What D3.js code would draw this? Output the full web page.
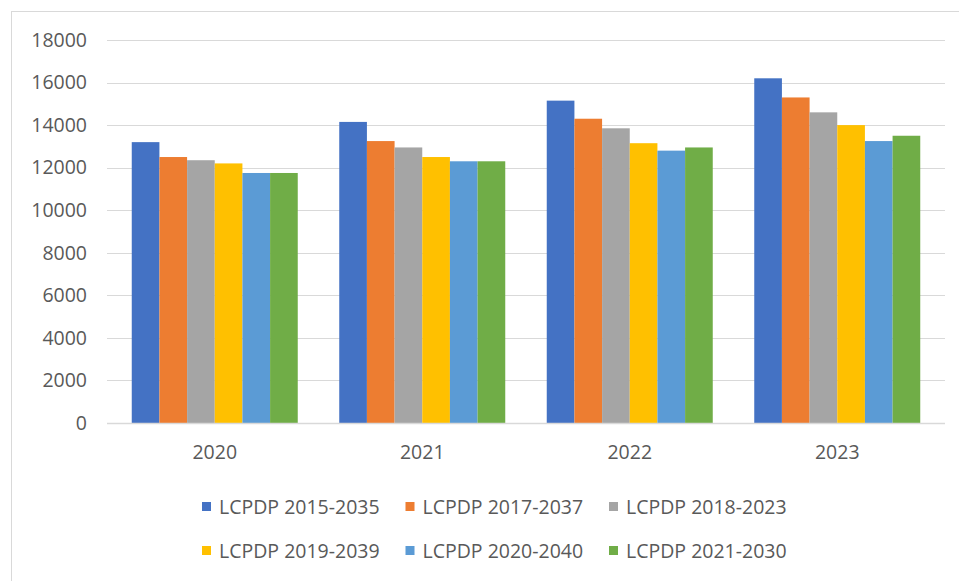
<!DOCTYPE html>
<html>
<head>
<meta charset="utf-8">
<script src="https://cdn.jsdelivr.net/npm/d3@7/dist/d3.min.js"></script>
<style>
  html, body { margin: 0; padding: 0; background: #fff; }
  svg { display: block; }
  text { font-family: "Open Sans", "Noto Sans", sans-serif; fill: #595959; }
</style>
</head>
<body>
<svg id="chart" width="959" height="581"></svg>
<script>
// Years on the category axis
const years = ["2020", "2021", "2022", "2023"];

// Plan editions (one bar per edition in each year)
const seriesNames = [
  "LCPDP 2015-2035",
  "LCPDP 2017-2037",
  "LCPDP 2018-2023",
  "LCPDP 2019-2039",
  "LCPDP 2020-2040",
  "LCPDP 2021-2030"
];

// Forecast values for each edition, by year
const lcpdp2015 = [13200, 14150, 15150, 16200];
const lcpdp2017 = [12500, 13250, 14300, 15300];
const lcpdp2018 = [12350, 12950, 13850, 14600];
const lcpdp2019 = [12200, 12500, 13150, 14000];
const lcpdp2020 = [11750, 12300, 12800, 13250];
const lcpdp2021 = [11750, 12300, 12950, 13500];

// Value axis tick labels
const yTicks = [0, 2000, 4000, 6000, 8000, 10000, 12000, 14000, 16000, 18000];

const seriesValues = [lcpdp2015, lcpdp2017, lcpdp2018, lcpdp2019, lcpdp2020, lcpdp2021];
const colors = ["#4472C4", "#ED7D31", "#A5A5A5", "#FFC000", "#5B9BD5", "#70AD47"];

const svg = d3.select("#chart");

// Chart area frame
svg.append("rect")
  .attr("x", 11.5).attr("y", 11.5)
  .attr("width", 980).attr("height", 600)
  .attr("fill", "none").attr("stroke", "#d9d9d9").attr("stroke-width", 1);

const plot = { left: 111, right: 941, top: 40, bottom: 423 };

const x0 = d3.scaleBand()
  .domain(years)
  .range([plot.left, plot.right])
  .paddingInner(0.2)
  .paddingOuter(0.1);

const x1 = d3.scaleBand()
  .domain(d3.range(seriesNames.length))
  .range([0, x0.bandwidth()]);

const y = d3.scaleLinear()
  .domain([0, 18000])
  .range([plot.bottom, plot.top]);

// Horizontal gridlines
svg.append("g")
  .selectAll("line")
  .data(yTicks.filter(t => t > 0))
  .join("line")
  .attr("x1", plot.left - 4).attr("x2", plot.right + 4)
  .attr("y1", d => Math.round(y(d)) + 0.5).attr("y2", d => Math.round(y(d)) + 0.5)
  .attr("stroke", "#d9d9d9").attr("stroke-width", 1);

// Value axis labels
const yAxis = d3.axisLeft(y).tickValues(yTicks).tickFormat(d3.format("d")).tickSize(0).tickPadding(0);
const gy = svg.append("g")
  .attr("transform", `translate(${plot.left - 24},0)`)
  .call(yAxis);
gy.select(".domain").remove();
gy.selectAll("text")
  .style("font-size", "19.5px")
  .style("font-family", "'Open Sans', sans-serif")
  .attr("fill", "#595959");

// Bars
const rows = years.map((yr, i) => ({ year: yr, values: seriesValues.map(s => s[i]) }));
svg.append("g")
  .selectAll("g")
  .data(rows)
  .join("g")
  .attr("transform", d => `translate(${x0(d.year)},0)`)
  .selectAll("rect")
  .data(d => d.values.map((v, k) => ({ k, v })))
  .join("rect")
  .attr("x", d => x1(d.k))
  .attr("width", x1.bandwidth())
  .attr("y", d => y(d.v))
  .attr("height", d => y(0) - y(d.v))
  .attr("fill", d => colors[d.k]);

// Category axis
const xAxis = d3.axisBottom(x0).tickSize(0).tickPadding(22);
const gx = svg.append("g")
  .attr("transform", `translate(0,${plot.bottom})`)
  .call(xAxis);
gx.select(".domain")
  .attr("d", `M${plot.left - 4},0.5H${plot.right + 4}`)
  .attr("stroke", "#d9d9d9").attr("stroke-width", 1.5);
gx.selectAll("text")
  .style("font-size", "19.5px")
  .style("font-family", "'Open Sans', sans-serif")
  .attr("fill", "#595959");

// Legend: two rows of three entries
const legend = svg.append("g");
const legendItems = legend.selectAll("g")
  .data(seriesNames)
  .join("g")
  .attr("transform", (d, i) => `translate(${202 + (i % 3) * 203.5},${507 + Math.floor(i / 3) * 44})`);
legendItems.append("rect")
  .attr("x", 0).attr("y", -5)
  .attr("width", 9).attr("height", 9)
  .attr("fill", (d, i) => colors[i]);
legendItems.append("text")
  .attr("x", 17).attr("y", 0)
  .attr("dy", "0.35em")
  .style("font-size", "19.5px")
  .text(d => d);
</script>
</body>
</html>
